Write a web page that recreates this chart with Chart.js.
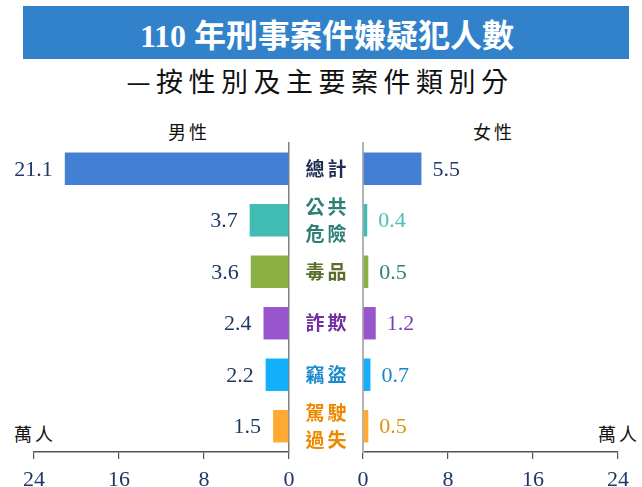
<!DOCTYPE html>
<html>
<head>
<meta charset="utf-8">
<script src="https://cdn.jsdelivr.net/npm/chart.js@4"></script>
<style>
  html, body { margin: 0; padding: 0; background: #fff; }
  #wrap { position: relative; width: 642px; height: 487px; overflow: hidden; }
  canvas { position: absolute; left: 0; top: 0; }
  .txt { position: absolute; white-space: nowrap; transform: translate(-50%, -50%); }
  #banner { position: absolute; left: 23px; top: 6px; width: 606px; height: 53px; background: #3182CB; }
  #title { left: 327px; top: 33px; color: #fff; font: bold 32px "Liberation Serif", "Noto Sans CJK TC", serif; letter-spacing: 0px; }
  #subtitle { left: 320px; top: 80px; color: #111; font: 27px "Noto Sans CJK TC", sans-serif; letter-spacing: 5.5px; }
  .side { top: 131px; color: #111; font: 18px "Noto Sans CJK TC", sans-serif; letter-spacing: 3px; }
  .unit { top: 433px; color: #111; font: 18px "Noto Sans CJK TC", sans-serif; letter-spacing: 3px; }
</style>
</head>
<body>
<div id="wrap">
  <div id="banner"></div>
  <div class="txt" id="title">110 年刑事案件嫌疑犯人數</div>
  <div class="txt" id="subtitle">—按性別及主要案件類別分</div>
  <div class="txt side" style="left:189px">男性</div>
  <div class="txt side" style="left:494px">女性</div>
  <div class="txt unit" style="left:35px">萬人</div>
  <div class="txt unit" style="left:619px">萬人</div>
  <canvas id="male" width="642" height="487"></canvas>
  <canvas id="female" width="642" height="487"></canvas>
</div>
<script>
const categories = [["總計"], ["公共", "危險"], ["毒品"], ["詐欺"], ["竊盜"], ["駕駛", "過失"]];
const maleValues = [21.1, 3.7, 3.6, 2.4, 2.2, 1.5];
const femaleValues = [5.5, 0.4, 0.5, 1.2, 0.7, 0.5];
const tickValues = [0, 8, 16, 24];

const barColors = ["#4380D3", "#40BCB2", "#8DB045", "#9955CC", "#14AFFA", "#FFAA33"];
const catColors = ["#1F2D50", "#2E8077", "#5B6E2B", "#7030A0", "#1A8BCF", "#EE8800"];
const maleLabelColors = ["#1F3864", "#1F3864", "#1F3864", "#1F3864", "#1F3864", "#1F3864"];
const femaleLabelColors = ["#1F3864", "#4BC0B6", "#2F7E78", "#7D3DB2", "#1A85C8", "#E0900F"];

const NAVY = "#1F3864";
const SERIF = "'Liberation Serif', 'Times New Roman', serif";

function valueLabels(colors, side) {
   return {
      id: "valueLabels-" + side,
      afterDatasetsDraw(chart) {
         const ctx = chart.ctx;
         const meta = chart.getDatasetMeta(0);
         ctx.save();
         ctx.font = `22px ${SERIF}`;
         ctx.textBaseline = "middle";
         meta.data.forEach((bar, i) => {
            const v = chart.data.datasets[0].data[i];
            ctx.fillStyle = colors[i];
            if (side === "left") {
               ctx.textAlign = "right";
               ctx.fillText(v.toFixed(1), bar.x - 12, bar.y + 1);
            } else {
               ctx.textAlign = "left";
               ctx.fillText(v.toFixed(1), bar.x + 11, bar.y + 1);
            }
         });
         ctx.restore();
      },
   };
}

const categoryLabels = {
   id: "categoryLabels",
   afterDraw(chart) {
      const ctx = chart.ctx;
      const yScale = chart.scales.y;
      ctx.save();
      ctx.font = "bold 19px 'Noto Sans CJK TC', sans-serif";
      ctx.textAlign = "center";
      ctx.textBaseline = "middle";
      ctx.letterSpacing = "3px";
      categories.forEach((lines, i) => {
         const y = yScale.getPixelForValue(i);
         ctx.fillStyle = catColors[i];
         const off = (lines.length - 1) * 13.5;
         lines.forEach((line, j) => {
            ctx.fillText(line, 327.5, y - off + j * 27);
         });
      });
      ctx.restore();
   },
};

function makeChart(id, values, opts) {
   const side = opts.side;
   return new Chart(document.getElementById(id), {
      type: "bar",
      data: {
         labels: categories.map((c) => c.join("")),
         datasets: [{
            data: values,
            backgroundColor: barColors,
            borderWidth: 0,
            barPercentage: 0.63,
            categoryPercentage: 1,
         }],
      },
      plugins: side === "left" ? [valueLabels(maleLabelColors, "left"), categoryLabels] : [valueLabels(femaleLabelColors, "right")],
      options: {
         indexAxis: "y",
         responsive: false,
         animation: false,
         devicePixelRatio: 1,
         layout: { padding: opts.padding },
         plugins: { legend: { display: false }, tooltip: { enabled: false }, title: { display: false } },
         scales: {
            x: {
               min: 0,
               max: 24,
               reverse: side === "left",
               afterBuildTicks: (s) => { s.ticks = tickValues.map((v) => ({ value: v })); },
               afterFit: (s) => { s.height = 35; },
               ticks: { color: NAVY, font: { family: SERIF, size: 22 }, padding: 8, maxRotation: 0 },
               grid: { drawOnChartArea: false, drawTicks: true, tickLength: 7, color: "#555", lineWidth: 1.2 },
               border: { display: true, color: "#555", width: 1.5 },
            },
            y: {
               position: side === "left" ? "right" : "left",
               afterFit: (s) => { s.width = 0; },
               ticks: { display: false },
               grid: { drawOnChartArea: false, drawTicks: false },
               border: { display: true, color: side === "left" ? "#7f7f7f" : "#b3b3b3", width: side === "left" ? 1.5 : 2 },
            },
         },
      },
   });
}

makeChart("male", maleValues, { side: "left", padding: { left: 34, right: 353, top: 143, bottom: 0 } });
makeChart("female", femaleValues, { side: "right", padding: { left: 363, right: 24, top: 143, bottom: 0 } });
</script>
</body>
</html>
